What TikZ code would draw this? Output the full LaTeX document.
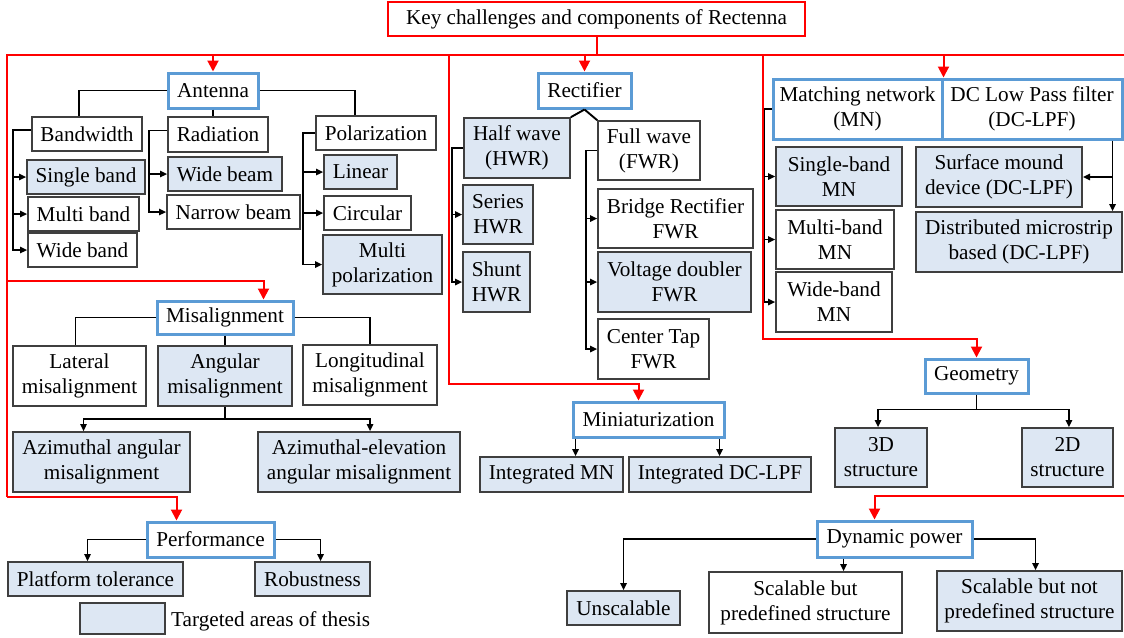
\documentclass[tikz,border=0pt]{standalone}
\usepackage{fontspec}
\setmainfont{Liberation Serif}
\usetikzlibrary{arrows.meta,calc}
\definecolor{bborder}{HTML}{5B9BD5}
\definecolor{bfill}{HTML}{DDE7F3}
\definecolor{gborder}{HTML}{3F3F3F}
\definecolor{rline}{HTML}{FF0000}
\newcommand\bx[7]{\node[#6,minimum width={(#4-#2)*0.5pt},minimum height={(#5-#3)*0.5pt}] (#1) at ({(#2+#4)/2},{(#3+#5)/2}) {#7};}
\begin{document}
\begin{tikzpicture}[x=0.5pt,y=-0.5pt,
 base/.style={rectangle, inner sep=1pt, align=center, font=\fontsize{10.6}{12.5}\selectfont, text=black},
 plain/.style={base, draw=gborder, line width=0.8pt, fill=white},
 tgt/.style={base, draw=gborder, line width=0.8pt, fill=bfill},
 head/.style={base, draw=bborder, line width=1.5pt, fill=white},
 ttl/.style={base, draw=rline, line width=1.2pt, fill=white},
 ln/.style={draw=black, line width=0.95pt},
 arr/.style={ln, -{Triangle[length=3.6pt,width=3.2pt]}},
 rl/.style={draw=rline, line width=1pt},
 rarr/.style={rl, -{Triangle[length=5.5pt,width=5.5pt]}}]
\useasboundingbox (0,0) rectangle (1124,637);
\fill[white] (0,0) rectangle (1124,637);

% ---------- boxes ----------
\bx{title}{388}{2}{805}{36}{ttl}{Key challenges and components of Rectenna}
\bx{ant}{168}{73}{258}{108}{head}{Antenna}
\bx{bw}{32}{117}{142}{151}{plain}{Bandwidth}
\bx{rad}{168}{117}{268}{152}{plain}{Radiation}
\bx{pol}{316}{116}{436}{150}{plain}{Polarization}
\bx{sb}{27}{160}{145}{194}{tgt}{Single band}
\bx{mb}{28}{197}{139}{231}{plain}{Multi band}
\bx{wb}{28}{233}{137}{267}{plain}{Wide band}
\bx{wbm}{168}{157}{282}{191}{tgt}{Wide beam}
\bx{nbm}{167}{195}{300}{229}{plain}{Narrow beam}
\bx{lin}{324}{155}{397}{189}{tgt}{Linear}
\bx{cir}{324}{196}{411}{230}{plain}{Circular}
\bx{mpol}{323}{235}{442}{294}{tgt}{Multi\\polarization}
\bx{mis}{157}{301}{293}{334}{head}{Misalignment}
\bx{lat}{13}{346}{146}{406}{plain}{Lateral\\misalignment}
\bx{ang}{158}{346}{292}{406}{tgt}{Angular\\misalignment}
\bx{lon}{303}{345}{437}{405}{plain}{Longitudinal\\misalignment}
\bx{az1}{13}{432}{190}{492}{tgt}{Azimuthal angular\\misalignment}
\bx{az2}{258}{432}{460}{492}{tgt}{Azimuthal-elevation\\angular misalignment}
\bx{perf}{147}{522}{274}{557}{head}{Performance}
\bx{plat}{8}{562}{183}{596}{tgt}{Platform tolerance}
\bx{rob}{255}{562}{370}{596}{tgt}{Robustness}
\bx{leg}{80}{603}{165}{634}{tgt}{}
\node[base, anchor=west] (legt) at ([xshift=1.5pt,yshift=-1.5pt]leg.east) {Targeted areas of thesis};
\bx{rect}{538}{73}{631}{108}{head}{Rectifier}
\bx{hw}{464}{118}{570}{178}{tgt}{Half wave\\(HWR)}
\bx{fw}{598}{121}{700}{180}{plain}{Full wave\\(FWR)}
\bx{ser}{463}{185}{533}{244}{tgt}{Series\\HWR}
\bx{shu}{463}{252}{530}{312}{tgt}{Shunt\\HWR}
\bx{bri}{598}{189}{753}{248}{plain}{Bridge Rectifier\\FWR}
\bx{vd}{598}{252}{751}{312}{tgt}{Voltage doubler\\FWR}
\bx{ct}{598}{319}{709}{379}{plain}{Center Tap\\FWR}
\bx{mini}{573}{402}{724}{437}{head}{Miniaturization}
\bx{imn}{480}{457}{623}{492}{tgt}{Integrated MN}
\bx{idc}{629}{457}{811}{492}{tgt}{Integrated DC-LPF}
\bx{mn}{773}{79}{942}{139}{head}{Matching network\\(MN)}
\bx{lpf}{942}{79}{1122}{139}{head}{DC Low Pass filter\\(DC-LPF)}
\bx{smn}{776}{147}{902}{206}{tgt}{Single-band\\MN}
\bx{mmn}{776}{210}{894}{269}{plain}{Multi-band\\MN}
\bx{wmn}{776}{272}{892}{332}{plain}{Wide-band\\MN}
\bx{surf}{916}{147}{1082}{207}{tgt}{Surface mound\\device (DC-LPF)}
\bx{dist}{916}{212}{1122}{272}{tgt}{Distributed microstrip\\based (DC-LPF)}
\bx{geo}{925}{359}{1028}{393}{head}{Geometry}
\bx{dthree}{835}{428}{927}{487}{tgt}{3D\\structure}
\bx{dtwo}{1022}{428}{1113}{487}{tgt}{2D\\structure}
\bx{dyn}{817}{521}{972}{557}{head}{Dynamic power}
\bx{uns}{567}{591}{680}{625}{tgt}{Unscalable}
\bx{sbp}{709}{572}{902}{633}{plain}{Scalable but\\predefined structure}
\bx{snp}{937}{571}{1122}{631}{tgt}{Scalable but not\\predefined structure}

% ---------- red frame ----------
\coordinate (rR) at (1124,55);
\coordinate (rL) at (7,55);
\coordinate (rB) at (7,497);
\coordinate (rM) at (7,281);
\coordinate (rCa) at (449,55);
\coordinate (rCb) at (449,384);
\coordinate (rDa) at (763,55);
\coordinate (rDb) at (763,339);
\coordinate (rE) at (1124,496);
\draw[rl] (title.south) -- (title.south |- rR);
\draw[rl] (rR) -- (rL) -- (rB);
\draw[rarr] (rB) -| ([xshift=-17pt]perf.north);
\draw[rarr] (rM) -| ([xshift=-15.5pt]mis.north east);
\draw[rarr] (ant.north |- rL) -- (ant.north);
\draw[rarr] (rect.north |- rL) -- (rect.north);
\draw[rarr] (mn.north east |- rL) -- (mn.north east);
\draw[rarr] (rCa) -- (rCb) -| ([xshift=-5pt]mini.north);
\draw[rarr] (rDa) -- (rDb) -| (geo.north);
\draw[rarr] (rE) -| ([xshift=-10pt]dyn.north);

% ---------- antenna ----------
\draw[ln] (ant.west) -| ([xshift=-4pt]bw.north);
\draw[ln] (ant.east) -| ([xshift=-10.5pt]pol.north);
\draw[ln] (ant.south) -- (ant.south |- rad.north);
\draw[arr] ([yshift=2pt]bw.west) -- ++(-18,0) |- (sb.west);
\draw[arr] ([yshift=2pt]bw.west) -- ++(-18,0) |- (mb.west);
\draw[arr] ([yshift=2pt]bw.west) -- ++(-18,0) |- (wb.west);
\draw[arr] ([yshift=2pt]rad.west) -- ++(-18,0) |- (wbm.west);
\draw[arr] ([yshift=2pt]rad.west) -- ++(-18,0) |- (nbm.west);
\draw[arr] (pol.west) -- ++(-12,0) |- (lin.west);
\draw[arr] (pol.west) -- ++(-12,0) |- (cir.west);
\draw[arr] (pol.west) -- ++(-12,0) |- (mpol.west);

% ---------- misalignment ----------
\draw[ln] (mis.west) -| ([xshift=-2pt]lat.north);
\draw[ln] (mis.east) -| (lon.north);
\draw[ln] (mis.south) -- (ang.north);
\coordinate (angj) at ([yshift=-6pt]ang.south);
\draw[ln] (ang.south) -- (angj);
\draw[arr] (angj) -| ([xshift=-9pt]az1.north);
\draw[arr] (angj) -| ([xshift=5.5pt]az2.north);

% ---------- performance ----------
\draw[arr] (perf.west) -| ([xshift=-4pt]plat.north);
\draw[arr] (perf.east) -| ([xshift=4pt]rob.north);

% ---------- rectifier ----------
\draw[ln] (rect.south) -- (hw.north east);
\draw[ln] (rect.south) -- (fw.north west);
\draw[arr] (hw.west) -- ++(-11,0) |- (ser.west);
\draw[arr] (hw.west) -- ++(-11,0) |- (shu.west);
\draw[arr] (fw.west) -- ++(-11,0) |- (bri.west);
\draw[arr] (fw.west) -- ++(-11,0) |- (vd.west);
\draw[arr] (fw.west) -- ++(-11,0) |- (ct.west);

% ---------- miniaturization ----------
\draw[arr] ([xshift=2pt]mini.south west) -- ([xshift=2pt]mini.south west |- imn.north);
\draw[arr] ([xshift=-3pt]mini.south east) -- ([xshift=-3pt]mini.south east |- idc.north);

% ---------- MN / LPF ----------
\draw[arr] (mn.west) -- ++(-7,0) |- (smn.west);
\draw[arr] (mn.west) -- ++(-7,0) |- (mmn.west);
\draw[arr] (mn.west) -- ++(-7,0) |- (wmn.west);
\coordinate (lpfsp) at ([xshift=-5.5pt]lpf.south east);
\draw[arr] (lpfsp) -- (lpfsp |- dist.north);
\draw[arr] (lpfsp |- surf.east) -- (surf.east);

% ---------- geometry ----------
\coordinate (gj) at ([yshift=-7.5pt]geo.south);
\draw[ln] (geo.south) -- (gj);
\draw[arr] (gj) -| ([xshift=-1.5pt]dthree.north);
\draw[arr] (gj) -| ([xshift=0.7pt]dtwo.north);

% ---------- dynamic power ----------
\draw[arr] (dyn.west) -| (uns.north);
\draw[arr] ([xshift=14pt]dyn.south west) -- ([xshift=14pt]dyn.south west |- sbp.north);
\draw[arr] (dyn.east) -| ([xshift=3pt]snp.north);
\end{tikzpicture}
\end{document}
